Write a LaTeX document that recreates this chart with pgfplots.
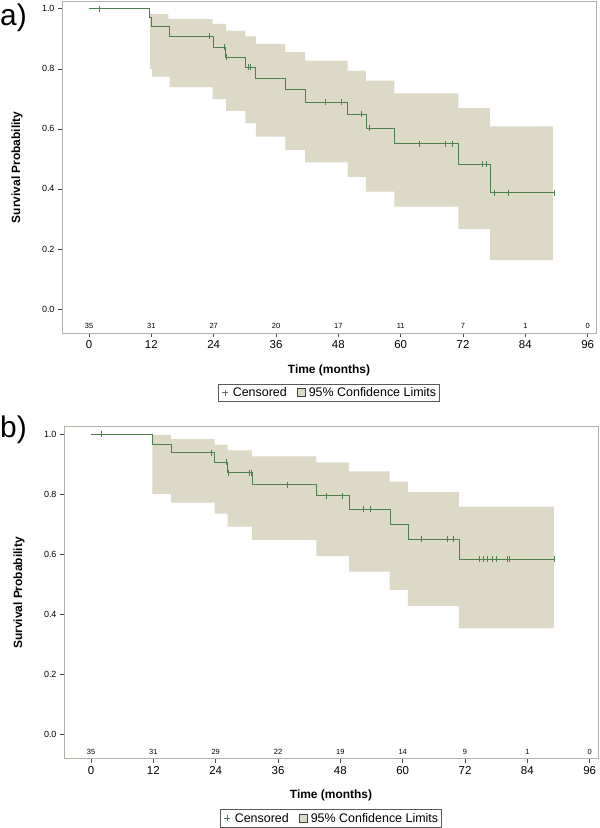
\documentclass[border=0pt]{standalone}
\usepackage{fontspec}
\setmainfont{Liberation Sans}
\usepackage{pgfplots}
\pgfplotsset{compat=1.18}
\usepgfplotslibrary{fillbetween}
\definecolor{kmgreen}{RGB}{78,128,78}
\definecolor{kmband}{RGB}{220,217,199}
\definecolor{kmframe}{RGB}{178,178,168}

\pgfplotsset{kmstyle/.style={
  scale only axis, width=534bp, height=332bp,
  xmin=-5.2, xmax=97.6, ymin=-0.081, ymax=1.025,
  axis line style={kmframe, line width=1bp},
  tick align=outside, tick pos=left, major tick length=4bp,
  tick style={black!70, line width=0.6bp},
  xtick={0,12,24,36,48,60,72,84,96}, ytick={0,0.2,0.4,0.6,0.8,1},
  /pgf/number format/assume math mode=true,
  yticklabel style={/pgf/number format/.cd, fixed, fixed zerofill, precision=1, /tikz/.cd, font=\fontsize{9}{10}\selectfont},
  xticklabel style={font=\fontsize{11.5}{12}\selectfont},
  xlabel={\bfseries Time (months)}, ylabel={\bfseries Survival Probability},
  label style={font=\fontsize{12}{14}\selectfont},
  xlabel style={at={(axis description cs:0.5,-0.111)}, anchor=center},
  ylabel style={at={(axis description cs:-0.084,0.5)}, anchor=center},
  legend style={at={(axis description cs:0.5,-0.179)}, anchor=center, legend columns=2,
    draw=black!65, line width=0.8bp, font=\fontsize{12.5}{13}\selectfont, inner sep=1.5bp},
  censor/.style={only marks, mark=|, mark size=3bp, kmgreen, line width=0.8bp, forget plot},
  atrisk/.style={mark=none, draw=none, forget plot, nodes near coords, point meta=explicit symbolic,
    nodes near coords style={anchor=center, font=\fontsize{7.5}{8}\selectfont}},
  censlegend/.style={legend image code/.code={\path[draw=none, fill=none] (-1bp,0) (10bp,0);
    \draw[kmgreen, line width=0.6bp] (4bp,-3bp) -- (4bp,3bp) (1bp,0bp) -- (7bp,0bp);}},
  bandlegend/.style={legend image code/.code={\path[draw=none, fill=none] (-7bp,0) (11bp,0);
    \draw[fill=kmband, draw=black!75, line width=0.6bp] (1bp,-4bp) rectangle (9bp,4bp);}},
}}

\begin{document}
\begin{tikzpicture}
\node[font=\fontsize{30}{32}\selectfont, anchor=west, inner sep=0pt] at (0bp,810bp) {a)};
\node[font=\fontsize{30}{32}\selectfont, anchor=west, inner sep=0pt] at (0bp,398bp) {b)};

% panel a
\begin{axis}[kmstyle, at={(62bp,494.7bp)}, anchor=south west]
\addlegendimage{censlegend}
\addlegendentry{Censored}
\addlegendimage{bandlegend}
\addlegendentry{95\% Confidence Limits}
\addplot[name path=upA, draw=none, const plot, forget plot] coordinates {
(11.7,0.983)(15.3,0.966)(23.8,0.950)(26.4,0.927)(30.1,0.908)(32.1,0.883)(37.8,0.856)(41.6,0.827)(49.8,0.794)(53.3,0.761)(58.8,0.718)(71.1,0.669)(77.2,0.608)(89.3,0.608)};
\addplot[name path=loA, draw=none, const plot, forget plot] coordinates {
(11.7,0.800)(12.1,0.774)(15.5,0.739)(23.8,0.699)(26.4,0.660)(30.1,0.619)(32.1,0.574)(37.8,0.530)(41.6,0.488)(49.8,0.439)(53.3,0.391)(58.8,0.341)(71.1,0.266)(77.2,0.163)(89.3,0.163)};
\addplot[kmband, forget plot] fill between[of=upA and loA];
\addplot[kmgreen, line width=1bp, const plot, forget plot] coordinates {
(0,1)(11.7,0.971)(12.1,0.941)(15.5,0.908)(24.0,0.872)(26.3,0.839)(30.1,0.806)(32.1,0.767)(37.8,0.730)(41.6,0.688)(49.8,0.649)(53.4,0.602)(58.9,0.551)(71.1,0.482)(77.3,0.388)(89.5,0.388)};
\addplot[censor] coordinates {
(2,1)(23.2,0.908)(26.1,0.872)(26.5,0.839)(30.7,0.806)(31.0,0.806)(45.5,0.688)(48.6,0.688)(52.5,0.649)(54,0.602)(63.6,0.551)(68.7,0.551)(69.9,0.551)(75.8,0.482)(76.5,0.482)(78.1,0.388)(80.8,0.388)(89.5,0.388)};
\addplot[atrisk] coordinates {
(0,-0.057)[35](12,-0.057)[31](24,-0.057)[27](36,-0.057)[20](48,-0.057)[17](60,-0.057)[11](72,-0.057)[7](84,-0.057)[1](96,-0.057)[0]};
\end{axis}

% panel b
\begin{axis}[kmstyle, at={(64bp,69bp)}, anchor=south west]
\addlegendimage{censlegend}
\addlegendentry{Censored}
\addlegendimage{bandlegend}
\addlegendentry{95\% Confidence Limits}
\addplot[name path=upB, draw=none, const plot, forget plot] coordinates {
(11.8,0.999)(15.4,0.985)(23.8,0.966)(26.3,0.947)(31.0,0.927)(43.4,0.907)(49.7,0.877)(57.5,0.843)(61.0,0.808)(70.8,0.760)(89.1,0.760)};
\addplot[name path=loB, draw=none, const plot, forget plot] coordinates {
(11.8,0.801)(15.4,0.773)(23.8,0.736)(26.3,0.693)(31.0,0.649)(43.4,0.595)(49.7,0.543)(57.5,0.482)(61.0,0.428)(70.8,0.354)(89.1,0.354)};
\addplot[kmband, forget plot] fill between[of=upB and loB];
\addplot[kmgreen, line width=1bp, const plot, forget plot] coordinates {
(0,1)(11.8,0.966)(15.4,0.940)(23.8,0.907)(26.2,0.873)(31.0,0.832)(43.4,0.796)(49.8,0.751)(57.6,0.701)(61.2,0.651)(71.0,0.585)(89.3,0.585)};
\addplot[censor] coordinates {
(2,1)(23.1,0.940)(26.1,0.907)(26.4,0.873)(30.4,0.873)(30.8,0.873)(37.8,0.832)(45.4,0.796)(48.4,0.796)(52.4,0.751)(53.8,0.751)(63.6,0.651)(68.6,0.651)(69.7,0.651)(74.8,0.585)(75.6,0.585)(76.4,0.585)(77.2,0.585)(78.0,0.585)(80.2,0.585)(80.6,0.585)(89.3,0.585)};
\addplot[atrisk] coordinates {
(0,-0.057)[35](12,-0.057)[31](24,-0.057)[29](36,-0.057)[22](48,-0.057)[19](60,-0.057)[14](72,-0.057)[9](84,-0.057)[1](96,-0.057)[0]};
\end{axis}
\pgfresetboundingbox
\path (0,0) rectangle (600bp,828bp);
\end{tikzpicture}
\end{document}
